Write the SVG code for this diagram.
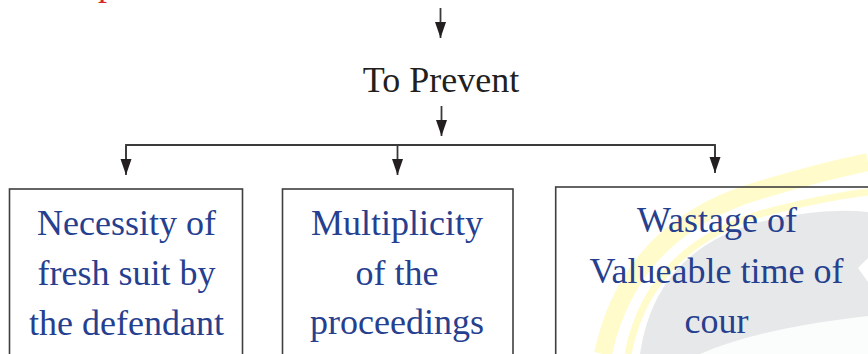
<svg xmlns="http://www.w3.org/2000/svg" width="868" height="354" viewBox="0 0 868 354">
  <style>
    .bg { fill: #ffffff; }
    .box { fill: none; stroke: #3f3f3f; stroke-width: 1.6; }
    .wire { fill: none; stroke: #3a3a3a; stroke-width: 1.8; }
    .head { font-family: "Liberation Serif", "Times New Roman", serif; font-size: 36px; fill: #231f20; text-anchor: middle; }
    .label { font-family: "Liberation Serif", "Times New Roman", serif; font-size: 36px; fill: #263f8f; text-anchor: middle; }
    .title { font-family: "Liberation Serif", "Times New Roman", serif; font-size: 36px; fill: #d7262e; }
  </style>
  <defs>
    <marker id="arrow" viewBox="0 0 16 12" refX="16" refY="6" markerWidth="16" markerHeight="12" markerUnits="userSpaceOnUse" orient="auto">
      <path d="M0,0.5 L16,6 L0,11.5 Z" fill="#231f20"/>
    </marker>
  </defs>

  <rect class="bg" x="0" y="0" width="868" height="354"/>

  <!-- faint emblem in the lower right background -->
  <g id="emblem" opacity="0.9">
    <path d="M640 354 Q 655 250 760 222 Q 820 207 868 212 L 868 354 Z" fill="#e5e6e7"/>
    <path d="M603 354 Q 630 228 760 190 Q 820 172 868 162" fill="none" stroke="#fffbc6" stroke-width="18"/>
    <path d="M628 354 Q 648 250 760 214 Q 820 198 868 192" fill="none" stroke="#fffbc6" stroke-width="7"/>
    <path d="M700 354 Q 760 328 868 316 L 868 354 Z" fill="#ffffff" opacity="0.85"/>
    <path d="M868 258 L 858 268 L 868 282 Z" fill="#ffffff"/>
  </g>

  <!-- heading line cut by the top edge -->
  <text class="title" x="98" y="-5">p</text>

  <g id="to-prevent">
    <text class="head" x="441" y="92">To Prevent</text>
  </g>

  <g id="connectors">
    <line class="wire" x1="440.5" y1="8" x2="440.5" y2="38" marker-end="url(#arrow)"/>
    <line class="wire" x1="441.5" y1="106" x2="441.5" y2="136" marker-end="url(#arrow)"/>
    <polyline class="wire" points="126,160 126,145 715,145 715,160"/>
    <line class="wire" x1="126" y1="146" x2="126" y2="175" marker-end="url(#arrow)"/>
    <line class="wire" x1="397.5" y1="146" x2="397.5" y2="175" marker-end="url(#arrow)"/>
    <line class="wire" x1="715" y1="146" x2="715" y2="173" marker-end="url(#arrow)"/>
  </g>

  <g id="fresh-suit">
    <rect class="box" x="9.5" y="189" width="233" height="200"/>
    <text class="label" x="126.5" y="235">Necessity of</text>
    <text class="label" x="126.5" y="285">fresh suit by</text>
    <text class="label" x="126.5" y="335">the defendant</text>
  </g>

  <g id="multiplicity">
    <rect class="box" x="282.5" y="189" width="230.5" height="200"/>
    <text class="label" x="397" y="235">Multiplicity</text>
    <text class="label" x="397" y="285">of the</text>
    <text class="label" x="397" y="334">proceedings</text>
  </g>

  <g id="wastage">
    <rect class="box" x="555.7" y="187" width="400" height="200"/>
    <text class="label" x="717" y="232">Wastage of</text>
    <text class="label" x="716.5" y="283">Valueable time of</text>
    <text class="label" x="716.5" y="333">cour</text>
  </g>
</svg>
